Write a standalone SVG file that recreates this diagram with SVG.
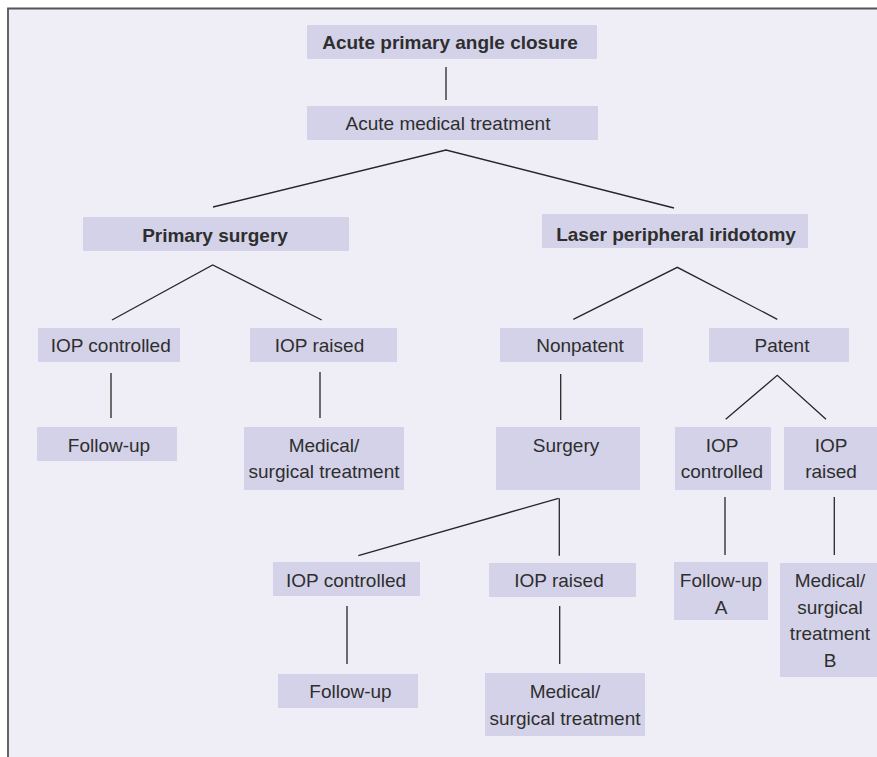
<svg xmlns="http://www.w3.org/2000/svg" width="877" height="757" viewBox="0 0 877 757">
<style>
.bx{fill:#d4d2e8}
.t{font-family:"Liberation Sans",Arial,sans-serif;font-size:19px;fill:#2e2e2e;text-anchor:middle}
.b{font-weight:bold}
.c{stroke:#262626;stroke-width:1.3;fill:none}
</style>
<rect width="877" height="757" fill="#ffffff"/>
<rect x="8" y="8.5" width="869" height="748.5" fill="#efeef7"/>
<path d="M8,757 V8.5 H877" fill="none" stroke="#555" stroke-width="1.8"/>
<g id="connectors" class="c">
<line x1="446" y1="67" x2="446" y2="100"/>
<polyline points="213,207 446,150 674,208"/>
<polyline points="112,320 212.7,265 321.7,320"/>
<polyline points="573.3,319.3 677.3,267.3 777.3,319.3"/>
<line x1="111" y1="373" x2="111" y2="418"/>
<line x1="320" y1="372" x2="320" y2="418"/>
<line x1="560.7" y1="374" x2="560.7" y2="420"/>
<polyline points="725.7,419.3 777.3,375.3 826,419.3"/>
<line x1="558.5" y1="498.3" x2="358.3" y2="555.7"/>
<line x1="559.3" y1="498.3" x2="559.3" y2="555.7"/>
<line x1="725" y1="497" x2="725" y2="555"/>
<line x1="834.3" y1="497" x2="834.3" y2="555"/>
<line x1="347" y1="606" x2="347" y2="664"/>
<line x1="559.7" y1="606" x2="559.7" y2="664"/>
</g>
<g id="n-apac"><rect class="bx" x="307" y="25" width="290" height="34"/><text class="t b" x="450" y="48.5">Acute primary angle closure</text></g>
<g id="n-amt"><rect class="bx" x="307" y="106" width="291" height="34"/><text class="t" x="448" y="130">Acute medical treatment</text></g>
<g id="n-ps"><rect class="bx" x="83" y="217" width="266" height="34"/><text class="t b" x="215" y="241.5">Primary surgery</text></g>
<g id="n-lpi"><rect class="bx" x="542" y="214" width="266" height="34"/><text class="t b" x="676" y="241">Laser peripheral iridotomy</text></g>
<g id="n-ps-ctrl"><rect class="bx" x="38" y="328" width="142" height="34"/><text class="t" x="110.7" y="351.5">IOP controlled</text></g>
<g id="n-ps-raised"><rect class="bx" x="250" y="328" width="147" height="34"/><text class="t" x="319.5" y="351.5">IOP raised</text></g>
<g id="n-nonpatent"><rect class="bx" x="500" y="328" width="143" height="34"/><text class="t" x="580" y="351.5">Nonpatent</text></g>
<g id="n-patent"><rect class="bx" x="709" y="328" width="140" height="34"/><text class="t" x="782" y="351.5">Patent</text></g>
<g id="n-ps-fu"><rect class="bx" x="37" y="427" width="140" height="34"/><text class="t" x="109" y="451.5">Follow-up</text></g>
<g id="n-ps-med"><rect class="bx" x="244" y="427" width="160" height="63"/><text class="t" x="324" y="452">Medical/</text><text class="t" x="324" y="478">surgical treatment</text></g>
<g id="n-surgery"><rect class="bx" x="496" y="427" width="144" height="63"/><text class="t" x="566" y="451.5">Surgery</text></g>
<g id="n-pat-ctrl"><rect class="bx" x="675" y="427" width="96" height="63"/><text class="t" x="722" y="452">IOP</text><text class="t" x="722" y="478">controlled</text></g>
<g id="n-pat-raised"><rect class="bx" x="784" y="427" width="93" height="63"/><text class="t" x="831" y="452">IOP</text><text class="t" x="831" y="478">raised</text></g>
<g id="n-s-ctrl"><rect class="bx" x="273" y="562" width="147" height="34"/><text class="t" x="346" y="586.5">IOP controlled</text></g>
<g id="n-s-raised"><rect class="bx" x="489" y="563" width="147" height="34"/><text class="t" x="559" y="587">IOP raised</text></g>
<g id="n-fu-a"><rect class="bx" x="674" y="562" width="94" height="58"/><text class="t" x="721" y="586.5">Follow-up</text><text class="t" x="721" y="613.5">A</text></g>
<g id="n-med-b"><rect class="bx" x="780" y="563" width="97" height="114"/><text class="t" x="830" y="587">Medical/</text><text class="t" x="830" y="613.5">surgical</text><text class="t" x="830" y="640">treatment</text><text class="t" x="830" y="666.5">B</text></g>
<g id="n-s-fu"><rect class="bx" x="278" y="674" width="140" height="34"/><text class="t" x="350.5" y="698">Follow-up</text></g>
<g id="n-s-med"><rect class="bx" x="485" y="673" width="160" height="63"/><text class="t" x="565" y="697.5">Medical/</text><text class="t" x="565" y="725">surgical treatment</text></g>
</svg>
